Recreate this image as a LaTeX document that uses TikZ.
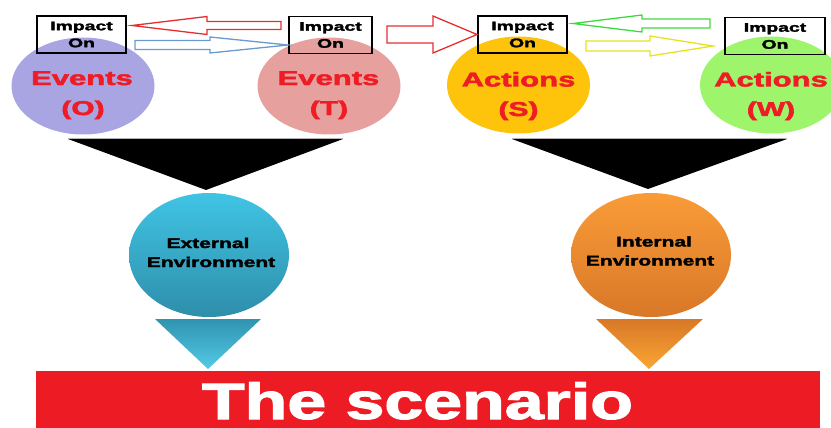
\documentclass[tikz,border=0pt]{standalone}
\usepackage{fontspec}
\setmainfont{Liberation Sans}
\newfontfamily\heavy{Liberation Sans}[BoldFeatures={FakeBold=2}]
\usetikzlibrary{shapes.geometric}
\definecolor{evO}{HTML}{A9A4E2}
\definecolor{evT}{HTML}{E6A19E}
\definecolor{acS}{HTML}{FEC40C}
\definecolor{acW}{HTML}{9EF46A}
\definecolor{txred}{HTML}{EE1C25}
\definecolor{banred}{HTML}{ED1C24}
\definecolor{blueA}{HTML}{40C4E4}
\definecolor{blueB}{HTML}{2E8EAA}
\definecolor{oranA}{HTML}{FA9B38}
\definecolor{oranB}{HTML}{D87828}
\definecolor{arRed}{HTML}{E62E2E}
\definecolor{arBlue}{HTML}{6A9AD0}
\definecolor{arGreen}{HTML}{40D840}
\definecolor{arYellow}{HTML}{E6E21E}
\newcommand\wtxt[2]{\scalebox{#1}[1]{#2}}
% #1 tail x, #2 tip x, #3 axis y, #4 shaft half height, #5 head half height, #6 head base x, #7 colour
\newcommand\blockarr[7]{%
  \draw[#7, line width=1.3pt, line join=miter]
    (#1,#3-#4) -- (#6,#3-#4) -- (#6,#3-#5) -- (#2,#3) -- (#6,#3+#5) -- (#6,#3+#4) -- (#1,#3+#4) -- cycle;}
\begin{document}
\begin{tikzpicture}[x=1pt,y=-1pt,
  evt/.style={ellipse, minimum width=143pt, minimum height=97pt, inner sep=0pt},
  envell/.style={ellipse, minimum width=160pt, minimum height=124pt, inner sep=0pt},
  impbox/.style={draw=black, line width=1.8pt, minimum height=37pt, inner sep=0pt, align=center,
    font=\heavy\bfseries\fontsize{12.5}{17}\selectfont},
  bigtxt/.style={anchor=base, inner sep=0pt, text=txred, font=\heavy\bfseries\fontsize{20}{24}\selectfont},
  envtxt/.style={anchor=base, inner sep=0pt, text=black, font=\heavy\bfseries\fontsize{14}{17}\selectfont},
]
\useasboundingbox (0,0) rectangle (831,428);
\clip (0,0) rectangle (831,428);

% top ellipses
\node[evt, fill=evO] (eO) at (83,86) {};
\node[evt, fill=evT] (eT) at (329,86) {};
\node[evt, fill=acS] (aS) at (518.5,85) {};
\node[evt, fill=acW] (aW) at (771.5,85) {};

\node[bigtxt] (tO1) at (82,85) {\wtxt{1.55}{Events}};
\node[bigtxt] (tO2) at (83,115) {\wtxt{1.5}{(O)}};
\node[bigtxt] (tT1) at (328.5,85) {\wtxt{1.55}{Events}};
\node[bigtxt] (tT2) at (329,115) {\wtxt{1.5}{(T)}};
\node[bigtxt] (tS1) at (518.5,86.5) {\wtxt{1.55}{Actions}};
\node[bigtxt] (tS2) at (518.5,116) {\wtxt{1.5}{(S)}};
\node[bigtxt] (tW1) at (771,86.5) {\wtxt{1.55}{Actions}};
\node[bigtxt] (tW2) at (771,116) {\wtxt{1.5}{(W)}};

% impact boxes
\node[impbox, minimum width=89pt] (b1) at (81.5,34.5) {\wtxt{1.55}{Impact}\\\wtxt{1.55}{On}};
\node[impbox, minimum width=83pt] (b2) at (330.5,35) {\wtxt{1.55}{Impact}\\\wtxt{1.55}{On}};
\node[impbox, minimum width=89pt] (b3) at (522.5,34.5) {\wtxt{1.55}{Impact}\\\wtxt{1.55}{On}};
\node[impbox, minimum width=100pt] (b4) at (775,36) {\wtxt{1.55}{Impact}\\\wtxt{1.55}{On}};

% block arrows
\blockarr{281}{132}{25.5}{4}{9}{207}{arRed}
\blockarr{135}{288}{45}{4.5}{8}{210}{arBlue}
\blockarr{387}{477}{34.5}{8.5}{18.5}{433}{arRed}
\blockarr{710}{573}{23.5}{4.5}{8.5}{642}{arGreen}
\blockarr{586}{713}{46}{5}{10}{650}{arYellow}

% funnels
\fill[black] (68,139) -- (343,139) -- (206,190) -- cycle;
\draw[gray!60, line width=0.8pt] (68,138.5) -- (343,138.5);
\fill[black] (512,139) -- (787,139) -- (648,189) -- cycle;
\draw[gray!60, line width=0.8pt] (512,138.5) -- (787,138.5);

% environments
\node[envell, top color=blueA, bottom color=blueB] (ext) at (209,255) {};
\node[envtxt] (ext1) at (208,248) {\wtxt{1.5}{External}};
\node[envtxt] (ext2) at (211,267) {\wtxt{1.5}{Environment}};
\node[envell, top color=oranA, bottom color=oranB] (int) at (651,255) {};
\node[envtxt] (int1) at (654,246.5) {\wtxt{1.5}{Internal}};
\node[envtxt] (int2) at (650,265.5) {\wtxt{1.5}{Environment}};

% small triangles
\shade[top color=blueB!90!blueA, bottom color=blueA!90!white] (155,319) -- (261,319) -- (208,369) -- cycle;
\shade[top color=oranB, bottom color=oranA!90!yellow] (596,319) -- (703,319) -- (649,369) -- cycle;

% banner
\fill[banred] (36,371) rectangle (820,440);
\node[anchor=base, inner sep=0pt, text=white, font=\heavy\bfseries\fontsize{51}{60}\selectfont] (scen) at (417.5,419) {\wtxt{1.37}{The scenario}};
\end{tikzpicture}
\end{document}
